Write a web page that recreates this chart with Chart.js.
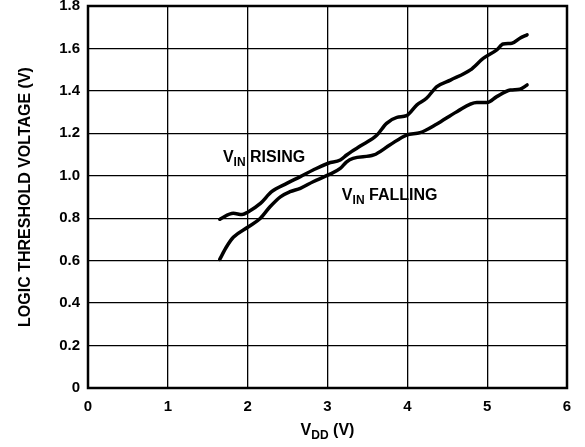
<!DOCTYPE html>
<html>
<head>
<meta charset="utf-8">
<script src="https://cdn.jsdelivr.net/npm/chart.js@4/dist/chart.umd.min.js"></script>
<style>
    html, body { margin: 0; padding: 0; background: #fff; }
    #wrap { width: 585px; height: 447px; }
</style>
</head>
<body>
<div id="wrap"><canvas id="chart" width="585" height="447"></canvas></div>
<script>
// values
const risingVdd = [1.65, 1.82, 1.93, 2.01, 2.16, 2.30, 2.49, 2.66, 2.82, 3.01, 3.16, 3.24, 3.30, 3.41, 3.62, 3.74, 3.87, 3.99, 4.12, 4.24, 4.37, 4.54, 4.79, 4.95, 5.12, 5.20, 5.31, 5.41, 5.50]
const risingV   = [0.795, 0.823, 0.817, 0.831, 0.870, 0.925, 0.964, 0.996, 1.027, 1.059, 1.074, 1.098, 1.114, 1.140, 1.192, 1.247, 1.275, 1.283, 1.334, 1.365, 1.420, 1.451, 1.499, 1.553, 1.593, 1.621, 1.624, 1.648, 1.664]

const fallingVdd = [1.65, 1.73, 1.82, 2.01, 2.16, 2.28, 2.41, 2.53, 2.66, 2.82, 3.01, 3.16, 3.24, 3.32, 3.58, 3.78, 3.99, 4.16, 4.37, 4.62, 4.87, 5.00, 5.12, 5.29, 5.41, 5.50]
const fallingV   = [0.606, 0.662, 0.710, 0.760, 0.800, 0.854, 0.901, 0.925, 0.941, 0.972, 1.004, 1.035, 1.066, 1.082, 1.098, 1.145, 1.192, 1.203, 1.244, 1.302, 1.345, 1.345, 1.373, 1.404, 1.408, 1.428]

const xTicks = [0, 1, 2, 3, 4, 5, 6]
const yTicks = [0, 0.2, 0.4, 0.6, 0.8, 1.0, 1.2, 1.4, 1.6, 1.8]

// curve labels: [main, subscript, rest, x, y]
const curveLabels = [
    ["V", "IN", " RISING", 1.69, 1.065],
    ["V", "IN", " FALLING", 3.18, 0.886]
]

const FONT = "'Liberation Sans', Arial, sans-serif"

function toPoints(xs, ys){
    let pts = []
    for(let i = 0; i < xs.length; i++){
        pts.push({x: xs[i], y: ys[i]})
    }
    return pts
}

function drawSubText(ctx, parts, x, y, size){
    // parts: main, sub, rest ; starts at x, baseline y
    ctx.font = `bold ${size}px ${FONT}`
    ctx.fillText(parts[0], x, y)
    let w = ctx.measureText(parts[0]).width
    ctx.font = `bold ${Math.round(size * 0.75)}px ${FONT}`
    ctx.fillText(parts[1], x + w, y + size * 0.25)
    w += ctx.measureText(parts[1]).width
    ctx.font = `bold ${size}px ${FONT}`
    ctx.fillText(parts[2], x + w, y)
}

function measureSubText(ctx, parts, size){
    ctx.font = `bold ${size}px ${FONT}`
    let w = ctx.measureText(parts[0]).width + ctx.measureText(parts[2]).width
    ctx.font = `bold ${Math.round(size * 0.75)}px ${FONT}`
    return w + ctx.measureText(parts[1]).width
}

const textPlugin = {
    id: "textPlugin",
    afterDraw(chart){
        const ctx = chart.ctx
        const area = chart.chartArea
        const xs = chart.scales.x
        const ys = chart.scales.y
        ctx.save()

        // frame
        ctx.strokeStyle = "#000"
        ctx.lineWidth = 2.5
        ctx.strokeRect(area.left, area.top, area.right - area.left, area.bottom - area.top)

        ctx.fillStyle = "#000"
        ctx.textAlign = "left"
        ctx.textBaseline = "alphabetic"

        for(let lab of curveLabels){
            drawSubText(ctx, lab, xs.getPixelForValue(lab[3]), ys.getPixelForValue(lab[4]), 16)
        }

        // x title
        const xt = ["V", "DD", " (V)"]
        const w = measureSubText(ctx, xt, 16)
        drawSubText(ctx, xt, (area.left + area.right) / 2 - w / 2, area.bottom + 47, 16)

        // y title
        ctx.translate(26, (area.top + area.bottom) / 2)
        ctx.rotate(-Math.PI / 2)
        ctx.textAlign = "center"
        ctx.textBaseline = "middle"
        ctx.font = `bold 16px ${FONT}`
        ctx.fillText("LOGIC THRESHOLD VOLTAGE (V)", 0, 0)

        ctx.restore()
    }
}

const lineStyle = {
    borderColor: "#000",
    borderWidth: 3.5,
    pointRadius: 0,
    fill: false,
    cubicInterpolationMode: "monotone",
    borderCapStyle: "round"
}

const chart = new Chart(document.querySelector("#chart"), {
    type: "line",
    data: {
        datasets: [
            Object.assign({label: "VIN RISING", data: toPoints(risingVdd, risingV)}, lineStyle),
            Object.assign({label: "VIN FALLING", data: toPoints(fallingVdd, fallingV)}, lineStyle)
        ]
    },
    options: {
        responsive: false,
        animation: false,
        layout: { padding: { top: 6, right: 18, left: 0, bottom: 0 } },
        plugins: {
            legend: { display: false },
            tooltip: { enabled: false }
        },
        scales: {
            x: {
                type: "linear",
                min: 0,
                max: 6,
                afterBuildTicks(scale){
                    scale.ticks = xTicks.map(v => ({value: v}))
                },
                afterFit(scale){
                    scale.height = 59
                    scale.paddingLeft = 0
                    scale.paddingRight = 0
                },
                ticks: {
                    color: "#000",
                    font: { family: FONT, size: 15, weight: "bold" },
                    padding: 10,
                    maxRotation: 0,
                    callback: v => String(v)
                },
                grid: { color: "#000", lineWidth: 1.3, drawTicks: false },
                border: { display: false }
            },
            y: {
                type: "linear",
                min: 0,
                max: 1.8,
                afterBuildTicks(scale){
                    scale.ticks = yTicks.map(v => ({value: v}))
                },
                afterFit(scale){
                    scale.width = 88
                    scale.paddingTop = 0
                    scale.paddingBottom = 0
                },
                ticks: {
                    color: "#000",
                    font: { family: FONT, size: 15, weight: "bold" },
                    padding: 8,
                    callback: v => v === 0 ? "0" : v.toFixed(1)
                },
                grid: { color: "#000", lineWidth: 1.3, drawTicks: false },
                border: { display: false }
            }
        }
    },
    plugins: [textPlugin]
})
</script>
</body>
</html>
